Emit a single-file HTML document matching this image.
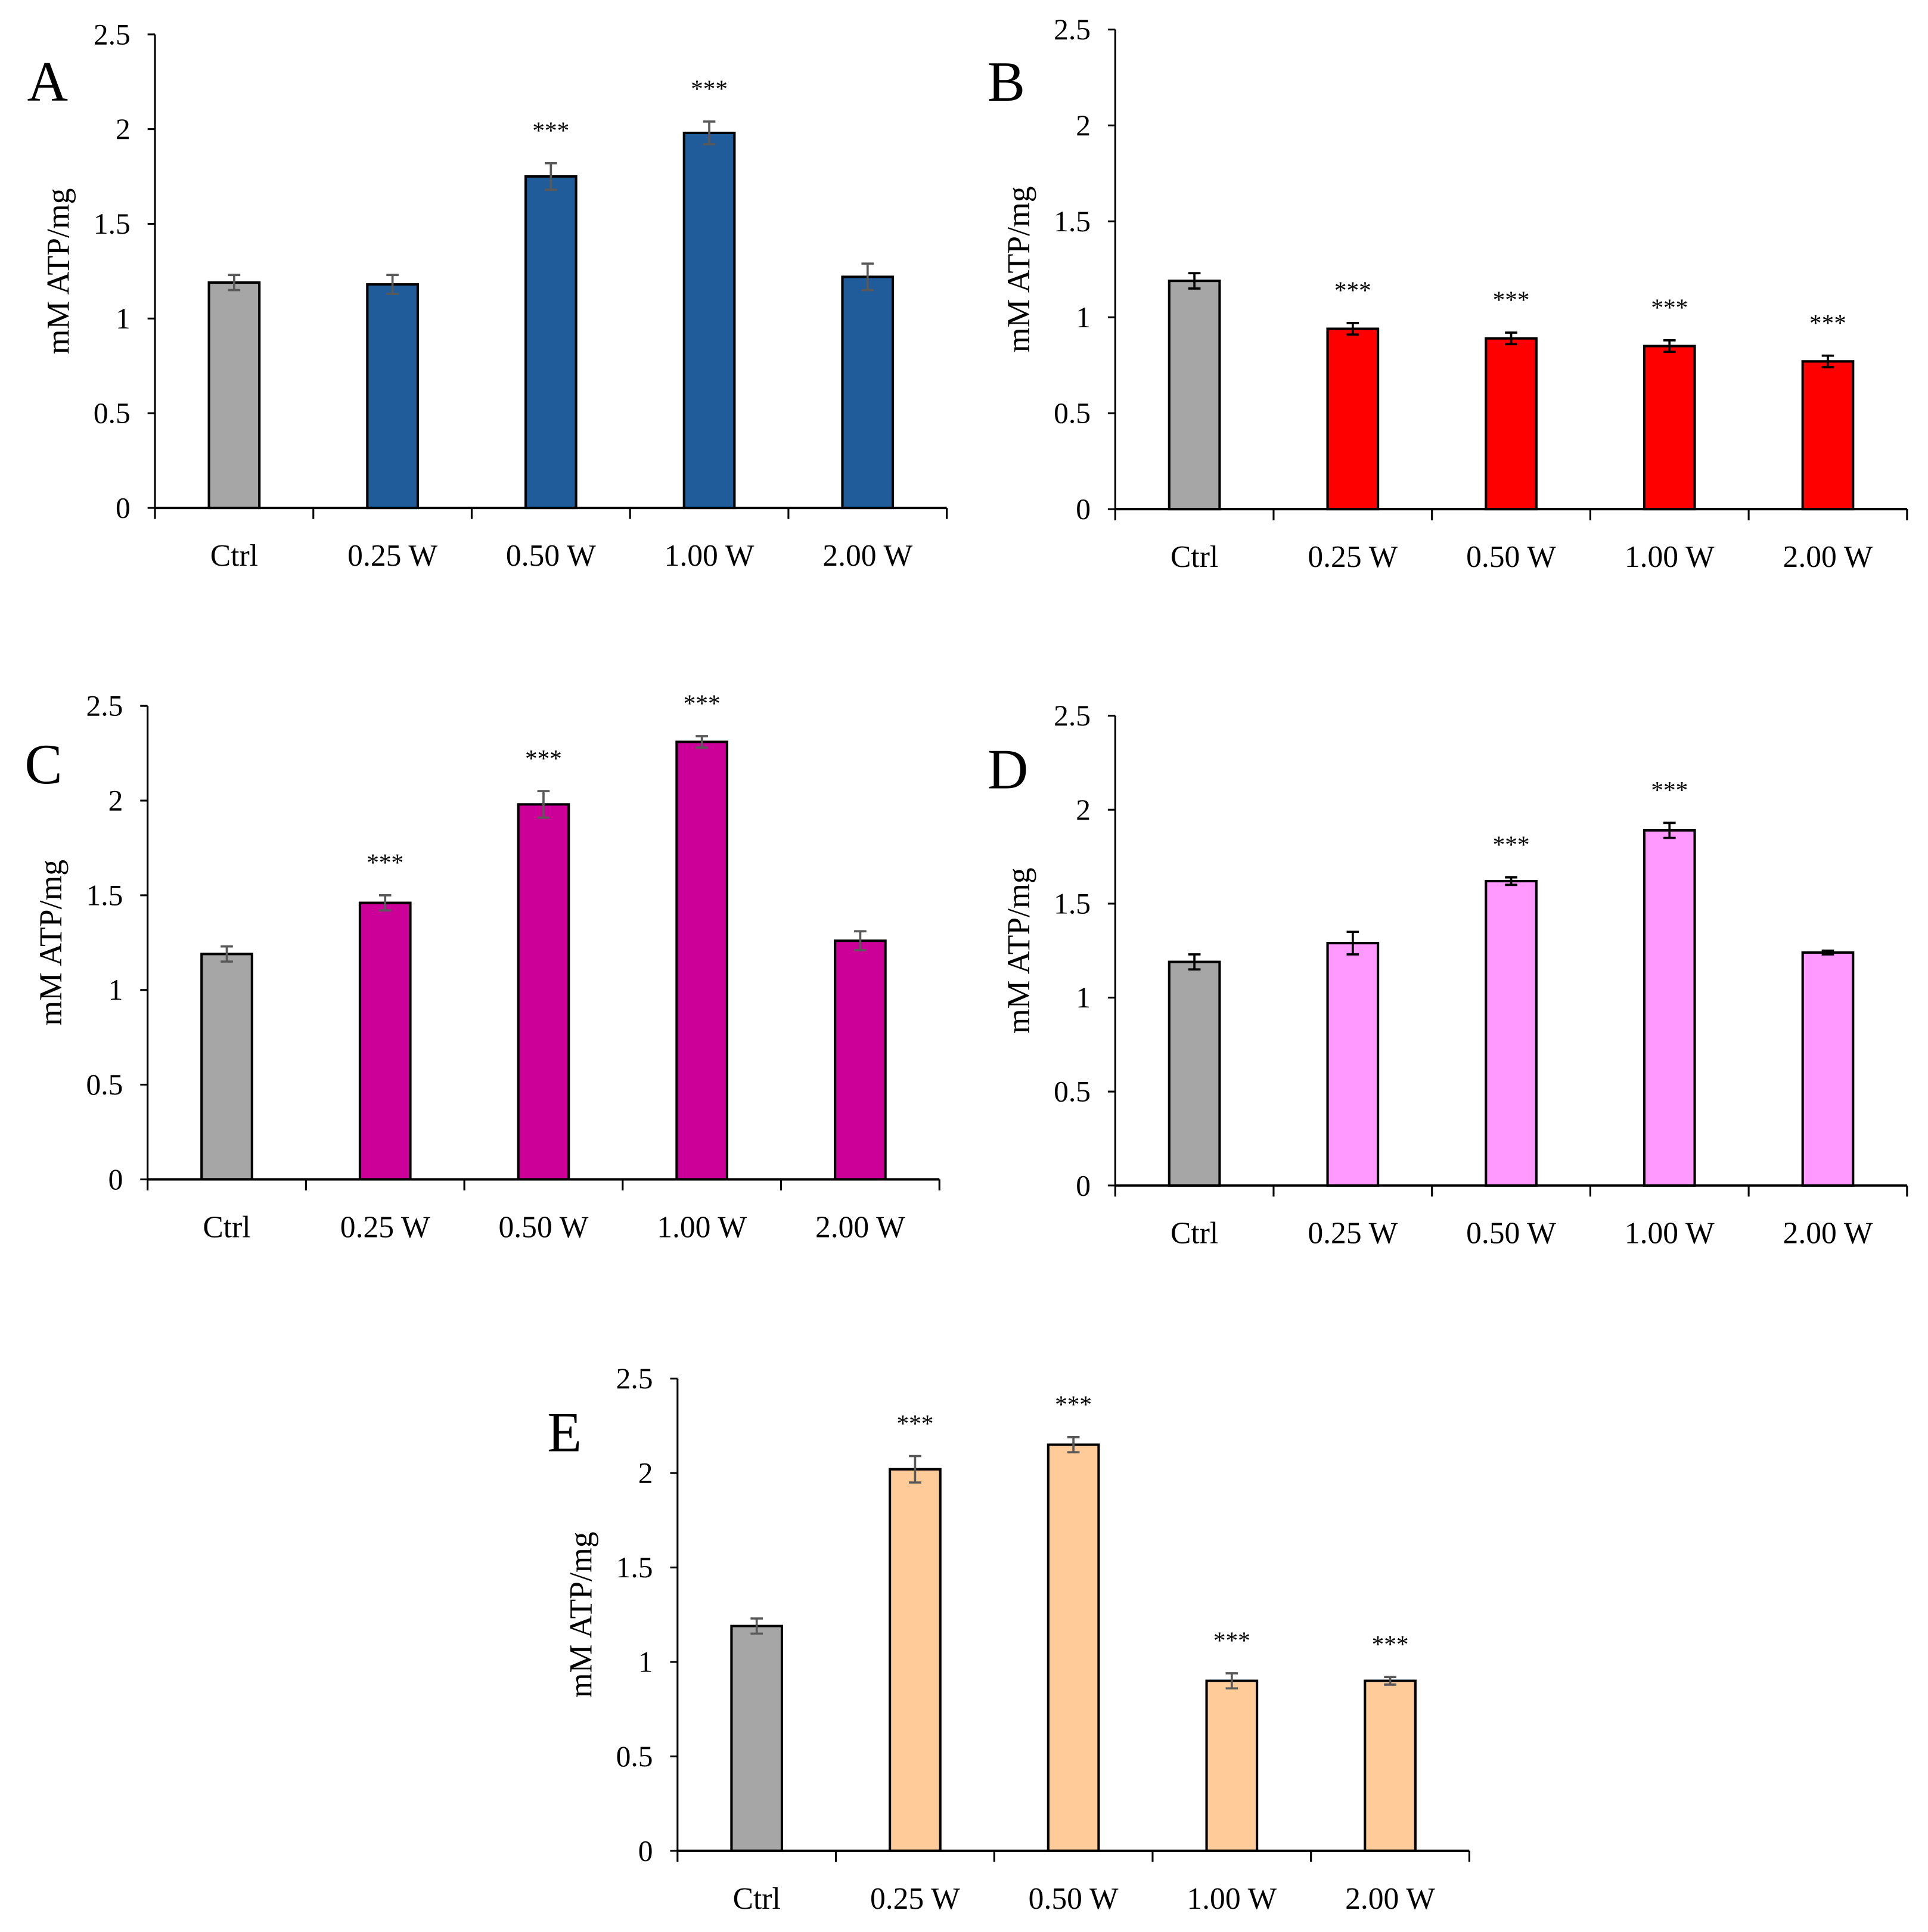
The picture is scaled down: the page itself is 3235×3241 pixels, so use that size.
<!DOCTYPE html>
<html><head><meta charset="utf-8"><style>html,body{margin:0;padding:0;background:#fff}svg{display:block}</style></head>
<body>
<svg id="fig" width="3235" height="3241" viewBox="0 0 1568 1571" xmlns="http://www.w3.org/2000/svg" font-family="Liberation Serif, serif"></svg>
<script>
const categories = ["Ctrl","0.25 W","0.50 W","1.00 W","2.00 W"];
const yTicks = [0,0.5,1,1.5,2,2.5];
const yTickLabels = ["0","0.5","1","1.5","2","2.5"];
const panelLabels = ["A","B","C","D","E"];
const valuesA = [1.19,1.18,1.75,1.98,1.22];
const errorsA = [0.04,0.05,0.07,0.06,0.07];
const starsA = [0,0,1,1,0];
const valuesB = [1.19,0.94,0.89,0.85,0.77];
const errorsB = [0.04,0.03,0.03,0.03,0.03];
const starsB = [0,1,1,1,1];
const valuesC = [1.19,1.46,1.98,2.31,1.26];
const errorsC = [0.04,0.04,0.07,0.03,0.05];
const starsC = [0,1,1,1,0];
const valuesD = [1.19,1.29,1.62,1.89,1.24];
const errorsD = [0.04,0.06,0.02,0.04,0.01];
const starsD = [0,0,1,1,0];
const valuesE = [1.19,2.02,2.15,0.90,0.90];
const errorsE = [0.04,0.07,0.04,0.04,0.02];
const starsE = [0,1,1,1,1];

const NS="http://www.w3.org/2000/svg";
const svg=document.getElementById('fig');
function mk(tag,attrs,parent){const e=document.createElementNS(NS,tag);for(const k in attrs)e.setAttribute(k,attrs[k]);(parent||svg).appendChild(e);return e;}

const panels=[
 {ax:126,y0:413,yTop:28,xEnd:770,lx:22,ly:82,vals:valuesA,errs:errorsA,stars:starsA,color:"#1f5c99",ec:"#595959"},
 {ax:907,y0:414,yTop:24,xEnd:1551,lx:803,ly:82,vals:valuesB,errs:errorsB,stars:starsB,color:"#ff0000",ec:"#000"},
 {ax:120,y0:959,yTop:574,xEnd:764,lx:20,ly:637,vals:valuesC,errs:errorsC,stars:starsC,color:"#cc0099",ec:"#595959"},
 {ax:907,y0:964,yTop:582,xEnd:1551,lx:803,ly:641,vals:valuesD,errs:errorsD,stars:starsD,color:"#ff99ff",ec:"#000"},
 {ax:551,y0:1505,yTop:1121,xEnd:1195,lx:445,ly:1180,vals:valuesE,errs:errorsE,stars:starsE,color:"#ffcc99",ec:"#595959"}
];

panels.forEach((p,pi)=>{
  const g=mk('g',{});
  
  
  const yS=v=>p.y0-(v/2.5)*(p.y0-p.yTop);
  const step=(p.xEnd-p.ax)/categories.length;
  const xC=i=>p.ax+step*(i+0.5);
  const bw=41;
  const pl=mk('text',{x:p.lx,y:p.ly,'font-size':46},g);pl.textContent=panelLabels[pi];
  
  
  const cy=(p.y0+p.yTop)/2;
  const yt=mk('text',{x:p.ax-76,y:cy,'font-size':26,'text-anchor':'middle',transform:`rotate(-90 ${p.ax-76} ${cy})`,'dominant-baseline':'middle'},g);
  yt.textContent="mM ATP/mg";
  
  
  yTicks.forEach((t,i)=>{
    const y=yS(t);
    mk('line',{x1:p.ax-6,x2:p.ax,y1:y,y2:y,stroke:'#000','stroke-width':1.5},g);
    const tl=mk('text',{x:p.ax-20,y:y+8,'font-size':24,'text-anchor':'end'},g);
    tl.textContent=yTickLabels[i];
    
    
  });
  p.vals.forEach((v,i)=>{
    const x=xC(i);
    const r=mk('rect',{x:x-bw/2,y:yS(v),width:bw,height:p.y0-yS(v),fill:i===0?'#a6a6a6':p.color,stroke:'#000','stroke-width':2},g);
    
    
    const e=p.errs[i];
    const t=yS(v+e),b=yS(v-e);
    mk('line',{x1:x,x2:x,y1:t,y2:b,stroke:p.ec,'stroke-width':1.8},g);
    mk('line',{x1:x-5,x2:x+5,y1:t,y2:t,stroke:p.ec,'stroke-width':1.8},g);
    mk('line',{x1:x-5,x2:x+5,y1:b,y2:b,stroke:p.ec,'stroke-width':1.8},g);
    if(p.stars[i]){
      const s=mk('text',{x:x,y:t-20,'font-size':20,'text-anchor':'middle'},g);
      s.textContent="***";
      
      
    }
    const xl=mk('text',{x:x,y:p.y0+47,'font-size':25,'text-anchor':'middle'},g);
    xl.textContent=categories[i];
    
    
  });
  const ya=mk('line',{x1:p.ax,x2:p.ax,y1:p.yTop,y2:p.y0,stroke:'#000','stroke-width':1.5},g);
  
  
  const xa=mk('line',{x1:p.ax,x2:p.xEnd,y1:p.y0,y2:p.y0,stroke:'#000','stroke-width':2},g);
  
  
  for(let i=0;i<=categories.length;i++){
    const x=p.ax+step*i;
    mk('line',{x1:x,x2:x,y1:p.y0,y2:p.y0+9,stroke:'#000','stroke-width':1.5},g);
  }
});
</script>
</body></html>
